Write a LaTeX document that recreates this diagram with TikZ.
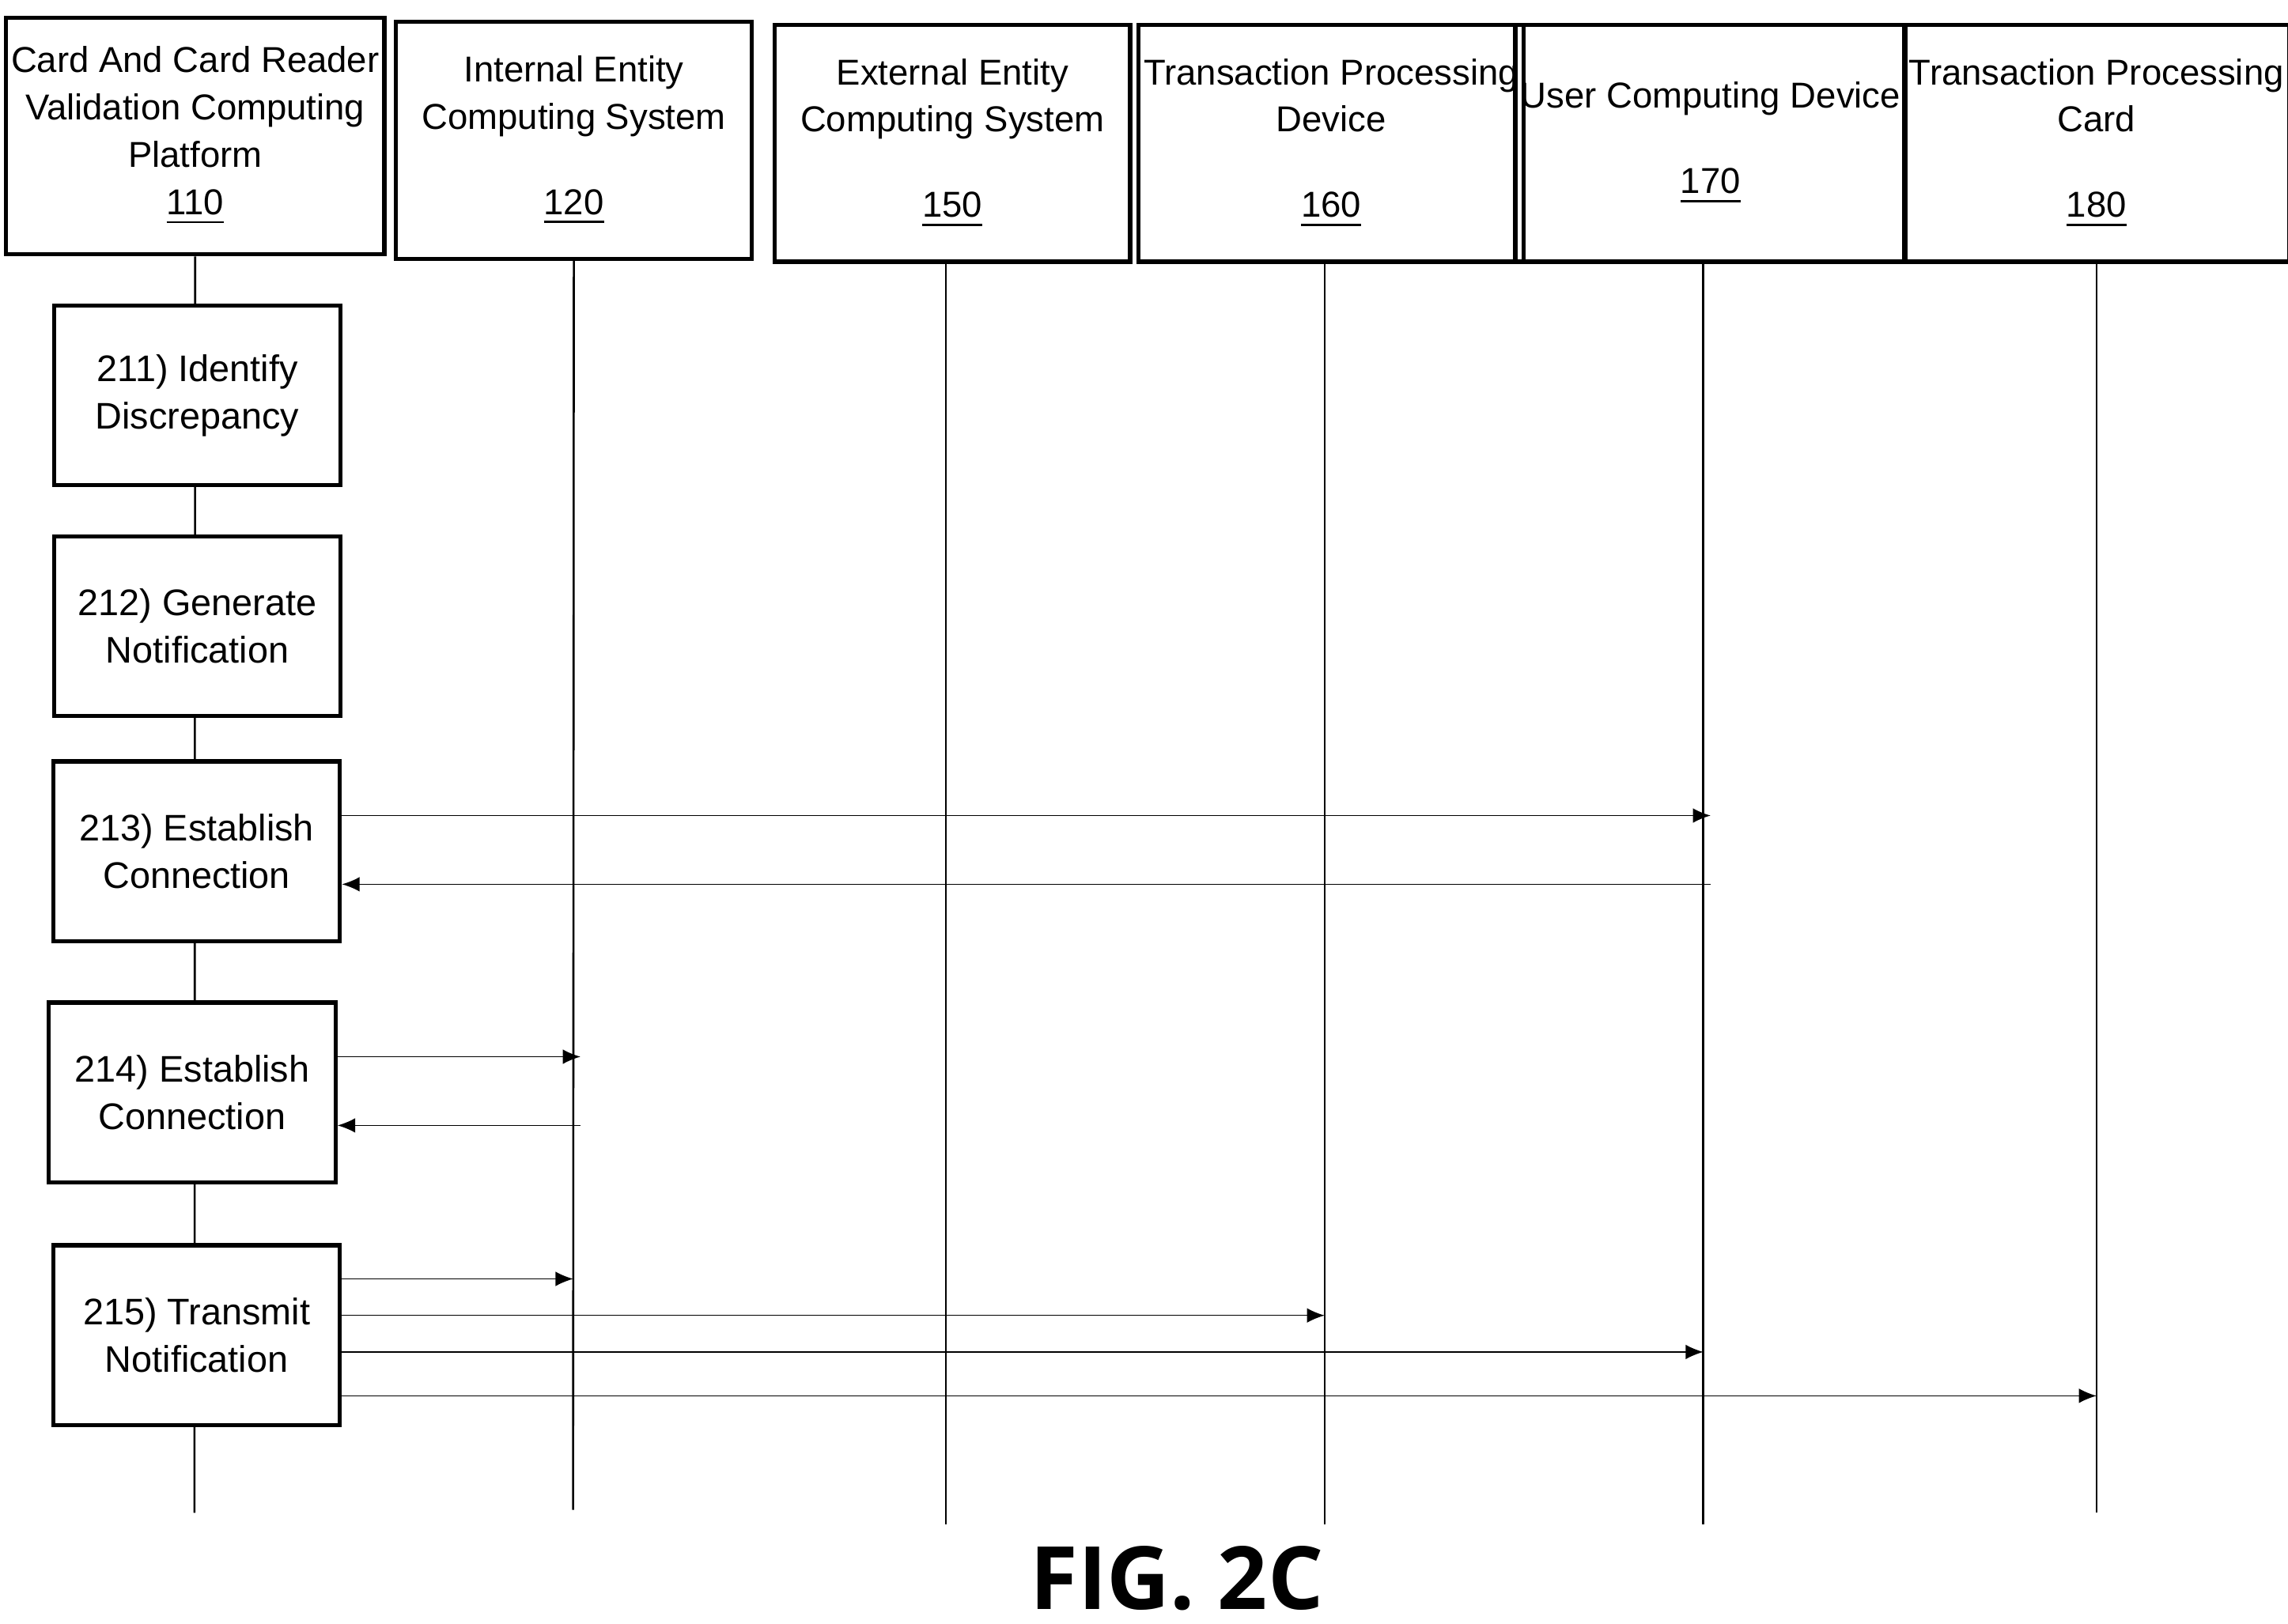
\documentclass[tikz,border=0pt]{standalone}
\usepackage{fontspec}
\setmainfont{Liberation Sans}
\newfontfamily\figfont{Open Sans}
\usetikzlibrary{arrows.meta}
\tikzset{
  head/.style={draw, thick, minimum width=2.43cm, minimum height=1.62cm, align=center, font=\fontsize{7}{9.2}\selectfont, inner sep=1pt},
  stepbox/.style={draw, thick, minimum width=1.96cm, minimum height=1.23cm, align=center, font=\fontsize{7.2}{9.2}\selectfont},
  msg/.style={-{Latex[length=1.2mm,width=1mm]}, very thin},
  life/.style={thin}
}
\begin{document}
\begin{tikzpicture}[x=0.01cm,y=-0.01cm]
\useasboundingbox (0,0) rectangle (1565,1111);

% Headers
\node[head] (h110) at (133.5,93) {Card And Card Reader\\Validation Computing\\Platform\\\underline{110}};
\node[head] (h120) at (392.5,96) {Internal Entity\\Computing System\\[2.6mm]\underline{120}};
\node[head] (h150) at (651.5,98) {External Entity\\Computing System\\[2.6mm]\underline{150}};
\node[head] (h160) at (910.5,98) {Transaction Processing\\Device\\[2.6mm]\underline{160}};
\node[head] (h170) at (1170,98) {User Computing Device\\[2.6mm]\underline{170}};
\node[head] (h180) at (1434,98) {Transaction Processing\\Card\\[2.6mm]\underline{180}};

% Lifeline ends
\coordinate (e110) at (133,1035);
\coordinate (e120) at (392,1033);
\coordinate (e150) at (647,1043);
\coordinate (e160) at (906,1043);
\coordinate (e170) at (1165,1043);
\coordinate (e180) at (1434,1035);
\draw[life] (h110.south) -- (e110);
\draw[life] (h120.south) -- (e120);
\draw[life] (h150.south -| e150) -- (e150);
\draw[life] (h160.south -| e160) -- (e160);
\draw[life] (h170.south -| e170) -- (e170);
\draw[life] (h180.south) -- (e180);

% Steps
\node[stepbox, fill=white] (s211) at (135,270.5) {211) Identify\\Discrepancy};
\node[stepbox, fill=white] (s212) at (135,428.5) {212) Generate\\Notification};
\node[stepbox, fill=white] (s213) at (134.5,582.5) {213) Establish\\Connection};
\node[stepbox, fill=white] (s214) at (131.5,747.5) {214) Establish\\Connection};
\node[stepbox, fill=white] (s215) at (134.5,913.5) {215) Transmit\\Notification};

% Messages
\draw[msg] (s213.east |- 0,558) -- (1170,558);
\draw[msg] (1170,605) -- (s213.east |- 0,605);
\draw[msg] (s214.east |- 0,723) -- (397,723);
\draw[msg] (397,770) -- (s214.east |- 0,770);
\draw[msg] (s215.east |- 0,875) -- (e120 |- 0,875);
\draw[msg] (s215.east |- 0,900) -- (e160 |- 0,900);
\draw[msg] (s215.east |- 0,925) -- (e170 |- 0,925);
\draw[msg] (s215.east |- 0,955) -- (e180 |- 0,955);

\node[font=\figfont\bfseries\fontsize{17}{20}\selectfont] (fig) at (805,1080) {FIG. 2C};
\end{tikzpicture}
\end{document}
